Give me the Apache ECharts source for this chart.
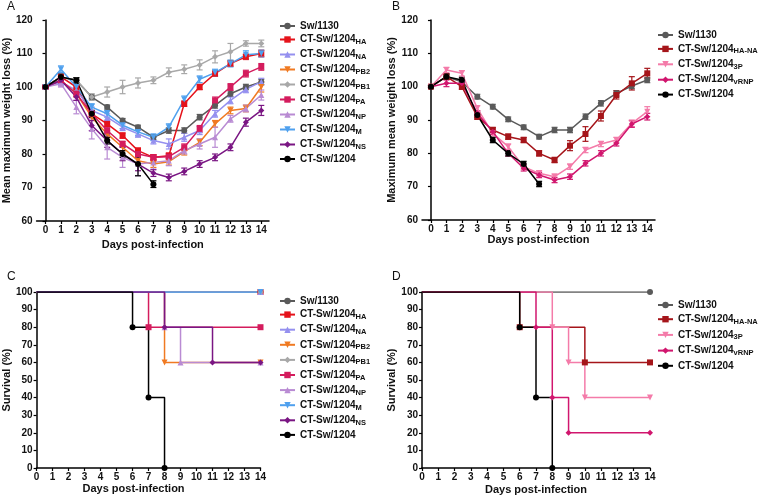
<!DOCTYPE html>
<html>
<head>
<meta charset="utf-8">
<script src="https://cdn.jsdelivr.net/npm/echarts@6/dist/echarts.min.js"></script>
<style>html,body{margin:0;padding:0;background:#fff}#main{width:760px;height:497px}</style>
</head>
<body>
<div id="main"></div>
<script>
var FONT = '"Liberation Sans", Arial, sans-serif';
var days = [0,1,2,3,4,5,6,7,8,9,10,11,12,13,14];

// Panel A: mean weight (%) per day, and error bars
var aSw1130 = [100,103,102,97,94,90,88,85,87,87,91,94.5,98,100,101.5];
var aSw1130Err = [0.3,0.8,0.7,0.6,0.6,0.6,0.6,0.7,0.8,0.8,0.8,0.8,0.8,0.8,0.8];
var aHA = [100,103,100,92,89,85.5,81,79,79.5,95,100,104,107,109,110];
var aHAErr = [0.3,0.8,0.8,0.8,0.8,0.8,0.8,0.8,0.8,0.8,0.8,0.8,0.8,0.8,1];
var aNA = [100,101.5,99,93,91,88,86,84,83,85,87,92,96,99.3,101.6];
var aNAErr = [0.3,1,1,1,1,1,1,1,1.5,1.2,1.2,1,1,1,1];
var aPB2 = [100,102,98,91,86,82,78,77,77.7,80.7,83.5,89,93,93.6,100];
var aPB2Err = [0.3,1,1,1,1,1,1,1,1,1,1,1,1,1,1.5];
var aPB1 = [100,103,102,97,98.5,100,101.2,102,104.4,105.3,106.6,109,110.5,113,113];
var aPB1Err = [0.3,0.8,0.8,1,1.5,2,1.5,1,1.3,1.3,1.5,1.8,2.5,0.8,1];
var aPA = [100,102,98,92,87,83,80,79,79.2,82,87.5,96,100,104,106];
var aPAErr = [0.3,0.8,0.8,1,1,0.8,1,0.8,0.8,1,1,1,1,1,1];
var aNP = [100,101,94,87.5,82,79,77,77.5,78,81,83,85,90.5,93.6,97.6];
var aNPErr = [0.3,1,2,3,3.5,3,3.5,2,1.5,1,1.5,3,1,1,1.5];
var aM = [100,105.3,100,94,92,88.6,86.6,85,88,96.3,102.3,104.3,107,109.6,110];
var aMErr = [0.3,1,1,1,1,1,1,1,1,1,1,1,1,1.2,1];
var aNS = [100,102,97,88.5,84,80,77,74.3,73,74.8,77,79,82,89.5,93];
var aNSErr = [0.3,1,1,1.5,2,2,2,1,1,1,1,1,1,1.2,1.5];
var a1204 = [100,103,102,92,84,80,77,71];
var a1204Err = [0.3,0.8,0.8,1,1,1,3.5,1];

// Panel B
var bSw1130 = [100,103,101.5,97,94,90.2,87.8,85,87,87,91,95,98,100.2,102];
var bSw1130Err = [0.3,0.8,0.7,0.7,0.7,0.7,0.7,0.7,0.8,0.8,0.8,0.8,0.8,0.8,0.8];
var bHANA = [100,103,100,91,87,85,84,80,78,82.3,85.8,91.2,97.5,101,104];
var bHANAErr = [0.3,0.8,0.8,0.8,0.8,0.8,0.8,0.8,0.8,1.5,2.2,1.5,1.2,2,1.5];
var b3P = [100,105,104,93.5,86,82,76,74,73,76,81,82.8,84,89,92.5];
var b3PErr = [0.3,0.8,0.8,0.8,0.8,0.8,0.8,0.8,0.8,0.8,0.8,0.8,0.8,1,1.5];
var bVRNP = [100,101,101,92,86.5,80,75.5,73.5,72,73,77,80,83,88.8,91];
var bVRNPErr = [0.3,1,0.8,0.8,0.8,0.8,0.8,0.8,0.8,0.8,0.8,0.8,0.8,1,1];
var b1204 = [100,103,102,91.5,84,80,76.8,70.8];
var b1204Err = [0.3,0.8,0.8,0.8,0.8,0.8,0.8,0.8];

// Panel C survival (%): [day, value] at event days
var cSw1130 = [[0,100],[14,100]];
var cHA = [[0,100],[14,100]];
var cNA = [[0,100],[14,100]];
var cPB2 = [[0,100],[8,60],[14,60]];
var cPB1 = [[0,100],[14,100]];
var cPA = [[0,100],[7,80],[14,80]];
var cNP = [[0,100],[8,80],[9,60],[14,60]];
var cM = [[0,100],[14,100]];
var cNS = [[0,100],[8,80],[11,60],[14,60]];
var c1204 = [[0,100],[6,80],[7,40],[8,0]];

// Panel D survival
var dSw1130 = [[0,100],[14,100]];
var dHANA = [[0,100],[6,80],[10,60],[14,60]];
var d3P = [[0,100],[8,80],[9,60],[10,40],[14,40]];
var dVRNP = [[0,100],[7,80],[8,40],[9,20],[14,20]];
var d1204 = [[0,100],[6,80],[7,40],[8,0]];

var legendA = ['Sw/1130','CT-Sw/1204_HA','CT-Sw/1204_NA','CT-Sw/1204_PB2','CT-Sw/1204_PB1',
  'CT-Sw/1204_PA','CT-Sw/1204_NP','CT-Sw/1204_M','CT-Sw/1204_NS','CT-Sw/1204'];
var legendB = ['Sw/1130','CT-Sw/1204_HA-NA','CT-Sw/1204_3P','CT-Sw/1204_vRNP','CT-Sw/1204'];

var sty = {
  'Sw/1130': {c:'#5a5a5a', s:'circle', r:0},
  'CT-Sw/1204_HA': {c:'#e5131b', s:'rect', r:0},
  'CT-Sw/1204_NA': {c:'#9590ef', s:'triangle', r:0},
  'CT-Sw/1204_PB2': {c:'#f07a22', s:'triangle', r:180},
  'CT-Sw/1204_PB1': {c:'#a8a8a8', s:'diamond', r:0},
  'CT-Sw/1204_PA': {c:'#d41c5d', s:'rect', r:0},
  'CT-Sw/1204_NP': {c:'#b98bd3', s:'triangle', r:0},
  'CT-Sw/1204_M': {c:'#4fa0ee', s:'triangle', r:180},
  'CT-Sw/1204_NS': {c:'#7a1683', s:'diamond', r:0},
  'CT-Sw/1204': {c:'#000000', s:'circle', r:0},
  'CT-Sw/1204_HA-NA': {c:'#a5151a', s:'rect', r:0},
  'CT-Sw/1204_3P': {c:'#f47ba9', s:'triangle', r:180},
  'CT-Sw/1204_vRNP': {c:'#d1166e', s:'diamond', r:0}
};

var series = [];

function addWeight(name, vals, errs, gi) {
  var st = sty[name];
  var errData = vals.map(function (v, i) { return [days[i], v - errs[i], v + errs[i]]; });
  series.push({
    type: 'custom', name: 'err ' + name + gi, xAxisIndex: gi, yAxisIndex: gi,
    data: errData, encode: {x: 0, y: [1, 2]}, silent: true,
    renderItem: function (params, api) {
      var x = api.value(0);
      var lo = api.coord([x, api.value(1)]);
      var hi = api.coord([x, api.value(2)]);
      var w = 3;
      var ls = {stroke: st.c, lineWidth: 1.2};
      return {type: 'group', children: [
        {type: 'line', shape: {x1: lo[0], y1: lo[1], x2: hi[0], y2: hi[1]}, style: ls},
        {type: 'line', shape: {x1: lo[0] - w, y1: lo[1], x2: lo[0] + w, y2: lo[1]}, style: ls},
        {type: 'line', shape: {x1: hi[0] - w, y1: hi[1], x2: hi[0] + w, y2: hi[1]}, style: ls}
      ]};
    }
  });
  series.push({
    type: 'line', name: name, xAxisIndex: gi, yAxisIndex: gi,
    data: vals.map(function (v, i) { return [days[i], v]; }),
    symbol: st.s, symbolRotate: st.r, symbolSize: 6,
    lineStyle: {color: st.c, width: 1.5},
    itemStyle: {color: st.c},
    z: 3
  });
}

function addSurv(name, pts, gi) {
  var st = sty[name];
  series.push({
    type: 'line', name: name, xAxisIndex: gi, yAxisIndex: gi, step: 'end',
    data: pts.map(function (p, i) { return i === 0 ? {value: p, symbol: 'none'} : {value: p}; }),
    symbol: st.s, symbolRotate: st.r, symbolSize: 6,
    lineStyle: {color: st.c, width: 1.5},
    itemStyle: {color: st.c}
  });
}

addWeight('Sw/1130', aSw1130, aSw1130Err, 0);
addWeight('CT-Sw/1204_HA', aHA, aHAErr, 0);
addWeight('CT-Sw/1204_NA', aNA, aNAErr, 0);
addWeight('CT-Sw/1204_PB2', aPB2, aPB2Err, 0);
addWeight('CT-Sw/1204_PB1', aPB1, aPB1Err, 0);
addWeight('CT-Sw/1204_PA', aPA, aPAErr, 0);
addWeight('CT-Sw/1204_NP', aNP, aNPErr, 0);
addWeight('CT-Sw/1204_M', aM, aMErr, 0);
addWeight('CT-Sw/1204_NS', aNS, aNSErr, 0);
addWeight('CT-Sw/1204', a1204, a1204Err, 0);

addWeight('Sw/1130', bSw1130, bSw1130Err, 1);
addWeight('CT-Sw/1204_HA-NA', bHANA, bHANAErr, 1);
addWeight('CT-Sw/1204_3P', b3P, b3PErr, 1);
addWeight('CT-Sw/1204_vRNP', bVRNP, bVRNPErr, 1);
addWeight('CT-Sw/1204', b1204, b1204Err, 1);

addSurv('Sw/1130', cSw1130, 2);
addSurv('CT-Sw/1204_HA', cHA, 2);
addSurv('CT-Sw/1204_NA', cNA, 2);
addSurv('CT-Sw/1204_PB2', cPB2, 2);
addSurv('CT-Sw/1204_PB1', cPB1, 2);
addSurv('CT-Sw/1204_PA', cPA, 2);
addSurv('CT-Sw/1204_NP', cNP, 2);
addSurv('CT-Sw/1204_M', cM, 2);
addSurv('CT-Sw/1204_NS', cNS, 2);
addSurv('CT-Sw/1204', c1204, 2);

addSurv('Sw/1130', dSw1130, 3);
addSurv('CT-Sw/1204_HA-NA', dHANA, 3);
addSurv('CT-Sw/1204_3P', d3P, 3);
addSurv('CT-Sw/1204_vRNP', dVRNP, 3);
addSurv('CT-Sw/1204', d1204, 3);

var axisLine = {lineStyle: {color: '#000', width: 1.5}};
var lab = {color: '#111', fontFamily: FONT, fontWeight: 'bold', fontSize: 10};
var nameSty = {color: '#111', fontFamily: FONT, fontWeight: 'bold', fontSize: 11};

function xAx(gi, min, max, gap, pad) {
  return {
    type: 'value', gridIndex: gi, min: min, max: max,
    name: 'Days post-infection', nameLocation: 'middle', nameGap: gap,
    nameTextStyle: Object.assign({padding: pad || 0}, nameSty),
    axisLine: axisLine,
    axisTick: {customValues: days, length: 3, lineStyle: {color: '#000', width: 1.2}},
    axisLabel: Object.assign({customValues: days, margin: 4}, lab),
    splitLine: {show: false}
  };
}
function yAx(gi, min, max, interval, name, gap) {
  return {
    type: 'value', gridIndex: gi, min: min, max: max, interval: interval,
    name: name, nameLocation: 'middle', nameGap: gap, nameTextStyle: nameSty,
    axisLine: {show: true, lineStyle: {color: '#000', width: 1.5}},
    axisTick: {show: true, length: 3, lineStyle: {color: '#000', width: 1.2}},
    axisLabel: Object.assign({margin: 4}, lab),
    splitLine: {show: false}
  };
}

function legendFmt(name) {
  var i = name.indexOf('_');
  if (i < 0) return '{b|' + name + '}';
  return '{b|' + name.slice(0, i) + '}{s|' + name.slice(i + 1) + '}';
}
function leg(data, left, top, gap) {
  return {
    data: data, orient: 'vertical', left: left, top: top, itemWidth: 15, itemHeight: 8,
    itemGap: gap, selectedMode: false, formatter: legendFmt,
    textStyle: {
      rich: {
        b: {fontFamily: FONT, fontWeight: 'bold', fontSize: 10, color: '#111', lineHeight: 13},
        s: {fontFamily: FONT, fontWeight: 'bold', fontSize: 7.5, color: '#111', lineHeight: 13, verticalAlign: 'bottom', padding: [4, 0, 0, 0]}
      }
    }
  };
}

var myChart = echarts.init(document.getElementById('main'));
var option = {
  animation: false,
  backgroundColor: '#fff',
  grid: [
    {left: 33, top: 20, width: 236, height: 201},
    {left: 422, top: 20, width: 233, height: 200},
    {left: 36, top: 292, width: 224.5, height: 176},
    {left: 422, top: 292, width: 228, height: 176}
  ],
  xAxis: [
    xAx(0, -0.58, 14.5, 18),
    xAx(1, -0.58, 14.5, 14),
    xAx(2, 0, 14, 15, [0, 30, 0, 0]),
    xAx(3, 0, 14, 16)
  ],
  yAxis: [
    yAx(0, 60, 120, 10, 'Mean maximum weight loss (%)', 16),
    yAx(1, 60, 120, 10, 'Maximum mean weight loss (%)', 18),
    yAx(2, 0, 100, 10, 'Survival (%)', 18),
    yAx(3, 0, 100, 10, 'Survival (%)', 18)
  ],
  legend: [
    leg(legendA, 274, 16, 3),
    leg(legendB, 652, 25, 3.4),
    leg(legendA, 274, 291, 3.1),
    leg(legendB, 652, 295, 3.7)
  ],
  graphic: [
    {type: 'text', left: 7, top: 1, style: {text: 'A', fontFamily: FONT, fontSize: 12, fill: '#111'}},
    {type: 'text', left: 392, top: 1, style: {text: 'B', fontFamily: FONT, fontSize: 12, fill: '#111'}},
    {type: 'text', left: 7, top: 271, style: {text: 'C', fontFamily: FONT, fontSize: 12, fill: '#111'}},
    {type: 'text', left: 392, top: 271, style: {text: 'D', fontFamily: FONT, fontSize: 12, fill: '#111'}}
  ],
  series: series
};
myChart.setOption(option);
</script>
</body>
</html>
